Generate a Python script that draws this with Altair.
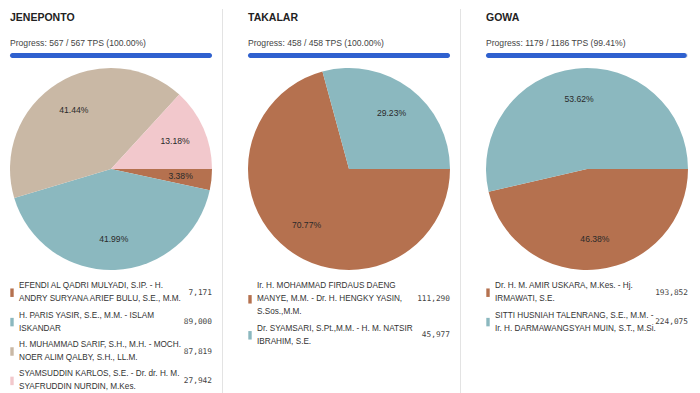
import math
import altair as alt
import pandas as pd

# ---------------- data ----------------
REGIONS = ["JENEPONTO", "TAKALAR", "GOWA"]
TPS_DONE = [567, 458, 1179]
TPS_TOTAL = [567, 458, 1186]

JENEPONTO_NAMES = [
    ["EFENDI AL QADRI MULYADI, S.IP. - H.", "ANDRY SURYANA ARIEF BULU, S.E., M.M."],
    ["H. PARIS YASIR, S.E., M.M. - ISLAM", "ISKANDAR"],
    ["H. MUHAMMAD SARIF, S.H., M.H. - MOCH.", "NOER ALIM QALBY, S.H., LL.M."],
    ["SYAMSUDDIN KARLOS, S.E. - Dr. dr. H. M.", "SYAFRUDDIN NURDIN, M.Kes."],
]
JENEPONTO_VOTES = [7171, 89000, 87819, 27942]

TAKALAR_NAMES = [
    ["Ir. H. MOHAMMAD FIRDAUS DAENG", "MANYE, M.M. - Dr. H. HENGKY YASIN,", "S.Sos.,M.M."],
    ["Dr. SYAMSARI, S.Pt.,M.M. - H. M. NATSIR", "IBRAHIM, S.E."],
]
TAKALAR_VOTES = [111290, 45977]

GOWA_NAMES = [
    ["Dr. H. M. AMIR USKARA, M.Kes. - Hj.", "IRMAWATI, S.E."],
    ["SITTI HUSNIAH TALENRANG, S.E., M.M. -", "Ir. H. DARMAWANGSYAH MUIN, S.T., M.Si."],
]
GOWA_VOTES = [193852, 224075]

PALETTE = ["#b5714f", "#8bb8bf", "#c9b8a5", "#f2c8cc"]

# ---------------- layout ----------------
H = 385
CX, CY, R = 103, 160, 101
LEG_TOP, LH, GAP = 269, 13.2, 3
FONT = "Liberation Sans"


def panel(name, done, total, names, votes, width, divider):
    tot = sum(votes)
    rows = []
    y = LEG_TOP
    for i, (nm, v) in enumerate(zip(names, votes)):
        h = len(nm) * LH + GAP
        c = y + h / 2
        rows.append(dict(idx=i, votes=v, pct=f"{v / tot * 100:.2f}%",
                         label="\n".join(nm), value=f"{v:,}", ly=c,
                         ty=c - (len(nm) - 1) * LH / 2))
        y += h
    df = pd.DataFrame(rows)
    base = alt.Chart(df)

    theta = alt.Theta("votes:Q", stack=True,
                      scale=alt.Scale(range=[math.pi / 2, math.pi / 2 + 2 * math.pi]))
    color = alt.Color("idx:O", scale=alt.Scale(domain=[0, 1, 2, 3], range=PALETTE), legend=None)
    order = alt.Order("idx:Q")

    pie = base.mark_arc(radius=R).encode(
        theta=theta, color=color, order=order, x=alt.value(CX), y=alt.value(CY))
    labels = base.mark_text(radius=70, fontSize=8.6, font=FONT, color="#2a2a2a").encode(
        theta=theta, order=order, text="pct:N", x=alt.value(CX), y=alt.value(CY))

    hdr = pd.DataFrame({
        "title": [name],
        "prog": [f"Progress: {done} / {total} TPS ({done / total * 100:.2f}%)"],
        "zero": [0], "done": [done], "total": [total],
    })
    hbase = alt.Chart(hdr)
    title = hbase.mark_text(align="left", baseline="middle", fontSize=10.5,
                            fontWeight="bold", font=FONT, color="#222").encode(
        x=alt.value(2), y=alt.value(9), text="title:N")
    prog = hbase.mark_text(align="left", baseline="middle", fontSize=8.6,
                           font=FONT, color="#444").encode(
        x=alt.value(2), y=alt.value(34), text="prog:N")
    xs = alt.Scale(domain=[0, total], range=[2, 204])
    track = hbase.mark_bar(cornerRadius=2.5, color="#e3e6ec").encode(
        x=alt.X("zero:Q", scale=xs, axis=None), x2="total:Q",
        y=alt.value(44), y2=alt.value(49))
    bar = hbase.mark_bar(cornerRadius=2.5, color="#2f61cf").encode(
        x=alt.X("zero:Q", scale=xs, axis=None), x2="done:Q",
        y=alt.value(44), y2=alt.value(49))

    ly = alt.Y("ly:Q", scale=None, axis=None)
    pills = base.mark_point(shape="M-0.4,-1L0.4,-1L0.4,1L-0.4,1Z", filled=True,
                            size=72, opacity=1).encode(x=alt.value(4), y=ly, color=color)
    legtext = base.mark_text(align="left", baseline="middle", fontSize=8.2, font=FONT,
                             lineBreak="\n", lineHeight=LH, color="#333").encode(
        x=alt.value(11), y=alt.Y("ty:Q", scale=None, axis=None), text="label:N")
    legval = base.mark_text(align="right", baseline="middle", fontSize=7.8,
                            font="DejaVu Sans Mono", color="#444").encode(
        x=alt.value(204), y=ly, text="value:N")

    layers = [track, bar, title, prog, pie, labels, pills, legtext, legval]
    if divider:
        rule = hbase.mark_rule(color="#e3e3e3", strokeWidth=1).encode(
            x=alt.value(214.5), y=alt.value(0), y2=alt.value(H))
        layers.append(rule)
    return alt.layer(*layers).properties(width=width, height=H)


p1 = panel(REGIONS[0], TPS_DONE[0], TPS_TOTAL[0], JENEPONTO_NAMES, JENEPONTO_VOTES, 238, True)
p2 = panel(REGIONS[1], TPS_DONE[1], TPS_TOTAL[1], TAKALAR_NAMES, TAKALAR_VOTES, 238, True)
p3 = panel(REGIONS[2], TPS_DONE[2], TPS_TOTAL[2], GOWA_NAMES, GOWA_VOTES, 208, False)

chart = alt.hconcat(p1, p2, p3, spacing=0).properties(
    padding=0, background="white").configure_view(stroke=None)

chart.save("out.html", embed_options={"renderer": "svg", "actions": False})
